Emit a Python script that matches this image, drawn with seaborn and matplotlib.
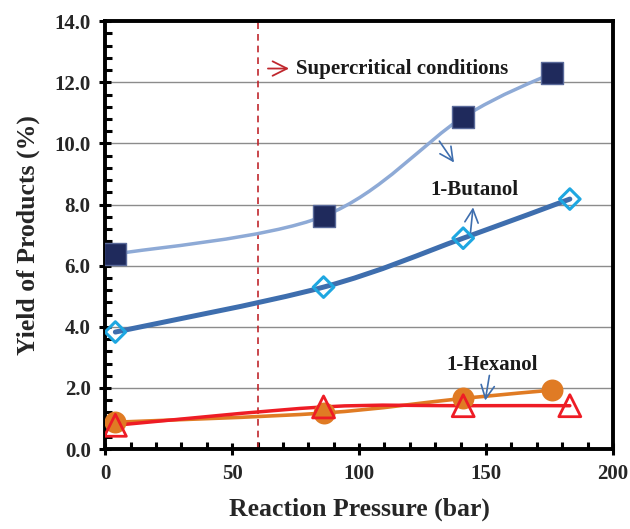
import numpy as np
import pandas as pd
import matplotlib
matplotlib.use("Agg")
import matplotlib.pyplot as plt
from matplotlib.path import Path
from matplotlib.patches import PathPatch
from matplotlib.ticker import MultipleLocator
import seaborn as sns

# values
p_square = [4, 86, 141, 176]
y_square = [6.38, 7.62, 10.86, 12.3]

p_diamond = [4, 86, 141, 183]
y_diamond = [3.83, 5.3, 6.9, 8.18]

p_circle = [4, 86, 141, 176]
y_circle = [0.88, 1.18, 1.66, 1.93]

p_triangle = [4, 86, 141, 183]
y_triangle = [0.78, 1.38, 1.42, 1.42]

x_ticks = [0, 50, 100, 150, 200]
y_ticks = [0, 2, 4, 6, 8, 10, 12, 14]
supercritical_p = 60


def smooth_path(xs, ys):
    # Excel-style smoothed line: cubic bezier segments through the data points
    pts = np.column_stack([xs, ys]).astype(float)
    n = len(pts)
    verts = [pts[0]]
    codes = [Path.MOVETO]
    for i in range(n - 1):
        p0 = pts[i - 1] if i > 0 else pts[i]
        p1 = pts[i]
        p2 = pts[i + 1]
        p3 = pts[i + 2] if i + 2 < n else pts[i + 1]
        c1 = p1 + (p2 - p0) / 6.0
        c2 = p2 - (p3 - p1) / 6.0
        verts += [c1, c2, p2]
        codes += [Path.CURVE4] * 3
    return Path(verts, codes)


sns.set_theme(style="white")
plt.rcParams["font.family"] = ["Liberation Serif", "DejaVu Serif"]
plt.rcParams["font.weight"] = "bold"

fig = plt.figure(figsize=(6.3, 5.29), dpi=100)
ax = fig.add_axes([0.167, 0.151, 0.806, 0.809])

ax.set_xlim(0, 200)
ax.set_ylim(0, 14)

for y in y_ticks[1:-1]:
    ax.axhline(y, color="#8c8c8c", lw=1.0, zorder=0)

ax.axvline(supercritical_p, color="#c0272d", lw=1.2, ls=(0, (4, 3)), zorder=1)

lines = [
    (p_square, y_square, "#8eaad6", 2.5),
    (p_diamond, y_diamond, "#3e6eae", 3.6),
    (p_circle, y_circle, "#e07b24", 2.6),
    (p_triangle, y_triangle, "#ee1c25", 2.5),
]
for xs, ys, c, lw in lines:
    ax.add_patch(PathPatch(smooth_path(xs, ys), facecolor="none", edgecolor=c,
                           lw=lw, capstyle="round", zorder=2))

df_sq = pd.DataFrame({"p": p_square, "y": y_square})
df_di = pd.DataFrame({"p": p_diamond, "y": y_diamond})
df_ci = pd.DataFrame({"p": p_circle, "y": y_circle})
df_tr = pd.DataFrame({"p": p_triangle, "y": y_triangle})

sns.scatterplot(data=df_sq, x="p", y="y", ax=ax, marker="s", s=240,
                color="#1f2a5c", edgecolor="#5a6a9a", linewidth=1, zorder=4)
sns.scatterplot(data=df_di, x="p", y="y", ax=ax, marker="D", s=110,
                facecolor="none", edgecolor="#1ea7e1", linewidth=2.2, zorder=4)
sns.scatterplot(data=df_ci, x="p", y="y", ax=ax, marker="o", s=250,
                color="#e07b24", edgecolor="#e07b24", linewidth=0, zorder=3)
sns.scatterplot(data=df_tr, x="p", y="y", ax=ax, marker="^", s=250,
                facecolor="none", edgecolor="#ee1c25", linewidth=2.0, zorder=5)

# annotations
red_arrow = dict(arrowstyle="->", color="#c0272d", lw=1.3, mutation_scale=26)
blue_arrow = dict(arrowstyle="->", color="#3e6eae", lw=1.2, mutation_scale=24)

ax.annotate("", xy=(73.5, 12.45), xytext=(63, 12.45), arrowprops=red_arrow)
ax.text(75, 12.45, "Supercritical conditions", fontsize=15, fontweight="bold",
        va="center", ha="left", color="#1a1a1a")

ax.text(145.5, 8.47, "1-Butanol", fontsize=15, fontweight="bold",
        va="center", ha="center", color="#1a1a1a")
ax.annotate("", xy=(138, 9.3), xytext=(131, 10.15), arrowprops=blue_arrow)
ax.annotate("", xy=(145, 8.0), xytext=(143.7, 6.95), arrowprops=blue_arrow)

ax.text(152.5, 2.75, "1-Hexanol", fontsize=15, fontweight="bold",
        va="center", ha="center", color="#1a1a1a")
ax.annotate("", xy=(149.5, 1.5), xytext=(151.5, 2.5), arrowprops=blue_arrow)

ax.set_xticks(x_ticks)
ax.set_yticks(y_ticks)
ax.set_xticklabels([str(v) for v in x_ticks], fontsize=15, fontweight="bold")
ax.set_yticklabels([f"{v:.1f}" for v in y_ticks], fontsize=15, fontweight="bold")
ax.xaxis.set_minor_locator(MultipleLocator(10))
ax.yaxis.set_minor_locator(MultipleLocator(0.4))
ax.tick_params(axis="both", which="major", direction="inout", length=9,
               width=2.2, color="black", pad=6)
ax.tick_params(axis="both", which="minor", direction="in", length=5,
               width=2.2, color="black")
ax.tick_params(bottom=True, left=True, top=False, right=False, which="both")

ax.set_xlabel("Reaction Pressure (bar)", fontsize=18.5, fontweight="bold", labelpad=10)
ax.set_ylabel("Yield of Products (%)", fontsize=18.5, fontweight="bold", labelpad=10)

for side in ["left", "bottom", "top", "right"]:
    ax.spines[side].set_color("black")
    ax.spines[side].set_linewidth(2.8)
    ax.spines[side].set_visible(True)

fig.savefig("out.png", dpi=100)
